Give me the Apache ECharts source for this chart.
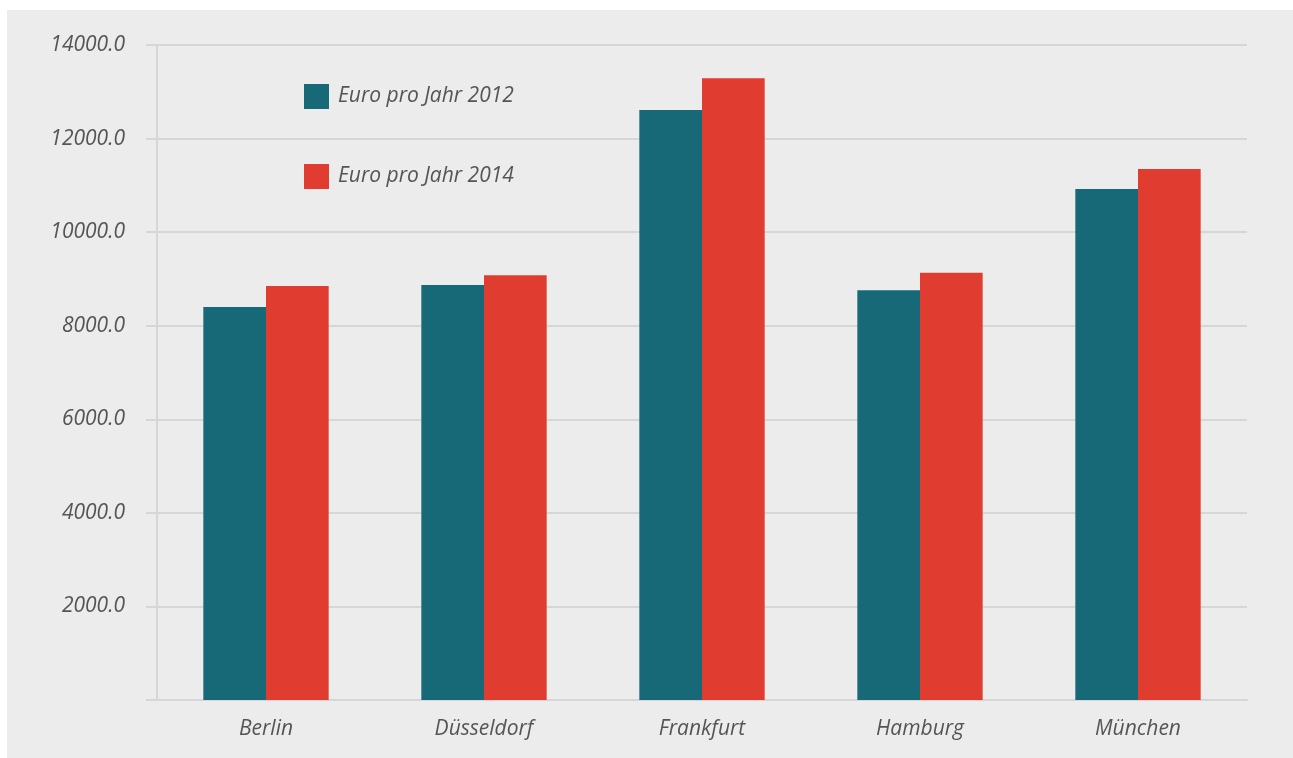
<!DOCTYPE html>
<html>
<head>
<meta charset="utf-8">
<title>Euro pro Jahr</title>
<script src="https://cdn.jsdelivr.net/npm/echarts@6/dist/echarts.min.js"></script>
<style>
  html, body { margin: 0; padding: 0; background: #fff; overflow: hidden; }
  #chart { position: absolute; left: 7px; top: 10px; width: 1286px; height: 748px; }
</style>
</head>
<body>
<div id="chart"></div>
<script>
// data
const cities = ['Berlin', 'Düsseldorf', 'Frankfurt', 'Hamburg', 'München'];
const euro2012 = [8400, 8870, 12610, 8760, 10920];
const euro2014 = [8850, 9080, 13290, 9130, 11350];
const seriesNames = ['Euro pro Jahr 2012', 'Euro pro Jahr 2014'];
const yTicks = [0, 2000, 4000, 6000, 8000, 10000, 12000, 14000];

const labelFont = {
  fontFamily: 'Open Sans',
  fontStyle: 'italic',
  fontSize: 21,
  color: '#555555'
};
const lineGray = '#d6d6d6';

const chart = echarts.init(document.getElementById('chart'));

chart.setOption({
  backgroundColor: '#ececec',
  animation: false,
  grid: { left: 150, top: 35, right: 46, bottom: 58 },
  legend: {
    orient: 'vertical',
    left: 292,
    top: 69,
    itemWidth: 25,
    itemHeight: 25,
    itemGap: 55,
    icon: 'rect',
    data: seriesNames,
    textStyle: Object.assign({ padding: [0, 0, 0, 4] }, labelFont)
  },
  xAxis: {
    type: 'category',
    data: cities,
    axisLine: { lineStyle: { color: lineGray, width: 2 } },
    axisTick: { length: 11, lineStyle: { color: lineGray, width: 2 } },
    axisLabel: Object.assign({ margin: 19 }, labelFont)
  },
  yAxis: {
    type: 'value',
    min: yTicks[0],
    max: yTicks[yTicks.length - 1],
    interval: 2000,
    axisLine: { show: true, lineStyle: { color: lineGray, width: 2 } },
    axisTick: { show: true, length: 11, lineStyle: { color: lineGray, width: 2 } },
    splitLine: { lineStyle: { color: lineGray, width: 2 } },
    axisLabel: Object.assign({
      margin: 32,
      formatter: function (v) { return v === 0 ? '' : v.toFixed(1); }
    }, labelFont)
  },
  series: [
    {
      name: seriesNames[0],
      type: 'bar',
      data: euro2012,
      barGap: '0%',
      barCategoryGap: '42.5%',
      itemStyle: { color: '#186977' }
    },
    {
      name: seriesNames[1],
      type: 'bar',
      data: euro2014,
      itemStyle: { color: '#e13c30' }
    }
  ]
});
</script>
</body>
</html>
